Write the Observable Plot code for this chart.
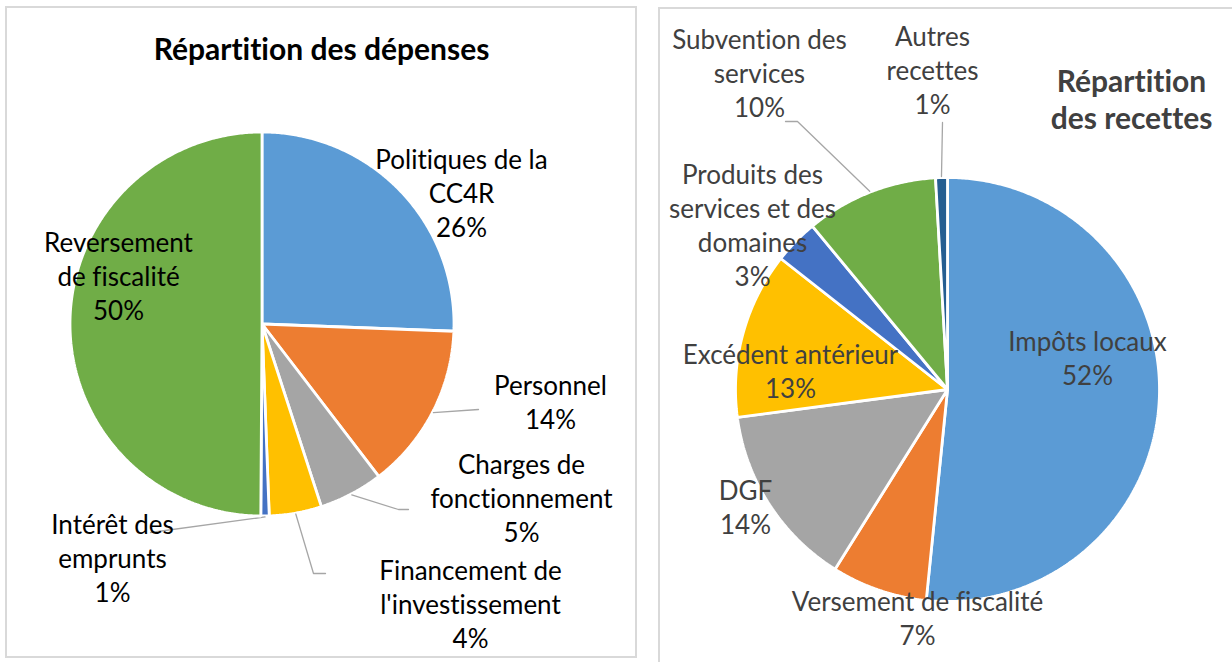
<!DOCTYPE html>
<html><head><meta charset="utf-8">
<script src="https://cdn.jsdelivr.net/npm/d3@7"></script>
<script src="https://cdn.jsdelivr.net/npm/@observablehq/plot@0.6"></script>
<style>
body{margin:0;background:#fff;width:1232px;height:662px;overflow:hidden;position:relative;font-family:Lato,sans-serif}
.box{position:absolute;border:2px solid #d9d9d9;box-sizing:border-box}
#chart{position:absolute;left:0;top:0}
svg text{font-variant-ligatures:none;font-feature-settings:"liga" 0}
</style></head><body>
<div class="box" style="left:5px;top:6px;width:632px;height:652px"></div>
<div class="box" style="left:658px;top:7px;width:620px;height:700px"></div>
<div id="chart"></div>
<script>
// ---- data ----
const depTitle = "Répartition des dépenses";
const depCategories = ["Politiques de la CC4R", "Personnel", "Charges de fonctionnement", "Financement de l'investissement", "Intérêt des emprunts", "Reversement de fiscalité"];
const depLabels = ["Politiques de la\nCC4R", "Personnel", "Charges de\nfonctionnement", "Financement de\nl'investissement", "Intérêt des\nemprunts", "Reversement\nde fiscalité"];
const depValues = [25.6, 14.0, 5.4, 4.4, 0.7, 49.9];

const recTitle = "Répartition\ndes recettes";
const recCategories = ["Impôts locaux", "Versement de fiscalité", "DGF", "Excédent antérieur", "Produits des services et des domaines", "Subvention des services", "Autres recettes"];
const recLabels = ["Impôts locaux", "Versement de fiscalité", "DGF", "Excédent antérieur", "Produits des\nservices et des\ndomaines", "Subvention des\nservices", "Autres\nrecettes"];
const recValues = [51.6, 7.3, 14.0, 12.7, 3.4, 10.1, 0.9];

// ---- styles / layout ----
const palette = ["#5B9BD5", "#ED7D31", "#A5A5A5", "#FFC000", "#4472C4", "#70AD47", "#255E91"];
const W = 1232, H = 662;
const FONT = "Lato, sans-serif";
const pies = [
  {
    cats: depCategories, labels: depLabels, values: depValues, title: depTitle,
    cx: 261.5, cy: 323.5, r: 192, textColor: "#000000",
    titlePos: [321, 48],
    labelPos: {
      "Politiques de la CC4R": [461, 192],
      "Personnel": [550, 401],
      "Charges de fonctionnement": [521, 497],
      "Financement de l'investissement": [470, 603],
      "Intérêt des emprunts": [112, 557],
      "Reversement de fiscalité": [118, 275]
    },
    leaders: {
      "Personnel": [[478, 409]],
      "Charges de fonctionnement": [[398, 509], [408, 509]],
      "Financement de l'investissement": [[313, 573], [325, 573]],
      "Intérêt des emprunts": [[150, 532]]
    }
  },
  {
    cats: recCategories, labels: recLabels, values: recValues, title: recTitle,
    cx: 947, cy: 389, r: 212, textColor: "#404040",
    titlePos: [1131, 98],
    labelPos: {
      "Impôts locaux": [1087, 357],
      "Versement de fiscalité": [917, 617],
      "DGF": [745, 506],
      "Excédent antérieur": [790, 370],
      "Produits des services et des domaines": [752, 224],
      "Subvention des services": [759, 72],
      "Autres recettes": [932, 69]
    },
    leaders: {
      "Subvention des services": [[797, 121], [785, 121]],
      "Autres recettes": [[942, 122]]
    }
  }
];

const marks = [];
pies.forEach(p => {
  const arcs = d3.pie().sort(null).value(d => d)(p.values);
  arcs.forEach((a, i) => {
    const pts = [{x: p.cx, y: p.cy}];
    const n = Math.max(2, Math.ceil((a.endAngle - a.startAngle) / (Math.PI / 360)));
    for (let k = 0; k <= n; k++) {
      const t = a.startAngle + (a.endAngle - a.startAngle) * k / n;
      pts.push({x: p.cx + p.r * Math.sin(t), y: p.cy - p.r * Math.cos(t)});
    }
    pts.push({x: p.cx, y: p.cy});
    marks.push(Plot.line(pts, {x: "x", y: "y", fill: palette[i], stroke: "white", strokeWidth: 2.8, strokeLinejoin: "miter"}));
    const cat = p.cats[i];
    if (p.leaders[cat]) {
      const mid = (a.startAngle + a.endAngle) / 2;
      const lp = [{x: p.cx + (p.r + 1) * Math.sin(mid), y: p.cy - (p.r + 1) * Math.cos(mid)}]
        .concat(p.leaders[cat].map(([x, y]) => ({x, y})));
      marks.push(Plot.line(lp, {x: "x", y: "y", stroke: "#a6a6a6", strokeWidth: 1.3}));
    }
  });
  const lab = p.cats.map((c, i) => ({
    x: p.labelPos[c][0], y: p.labelPos[c][1],
    text: `${p.labels[i]}\n${Math.round(p.values[i])}%`
  }));
  marks.push(Plot.text(lab, {x: "x", y: "y", text: "text", fill: p.textColor, fontSize: 26, lineHeight: 1.31, fontFamily: FONT, textAnchor: "middle", lineAnchor: "middle"}));
  marks.push(Plot.text([p.title], {x: () => p.titlePos[0], y: () => p.titlePos[1], text: d => d, fill: p.textColor, fontSize: 30, fontWeight: "bold", lineHeight: 1.23, fontFamily: FONT, textAnchor: "middle", lineAnchor: "middle"}));
});

const chart = Plot.plot({
  width: W, height: H,
  margin: 0,
  x: {domain: [0, W], range: [0, W], axis: null},
  y: {domain: [0, H], range: [0, H], axis: null},
  style: {background: "transparent", overflow: "visible"},
  marks
});
document.getElementById("chart").appendChild(chart);
</script>
</body></html>
